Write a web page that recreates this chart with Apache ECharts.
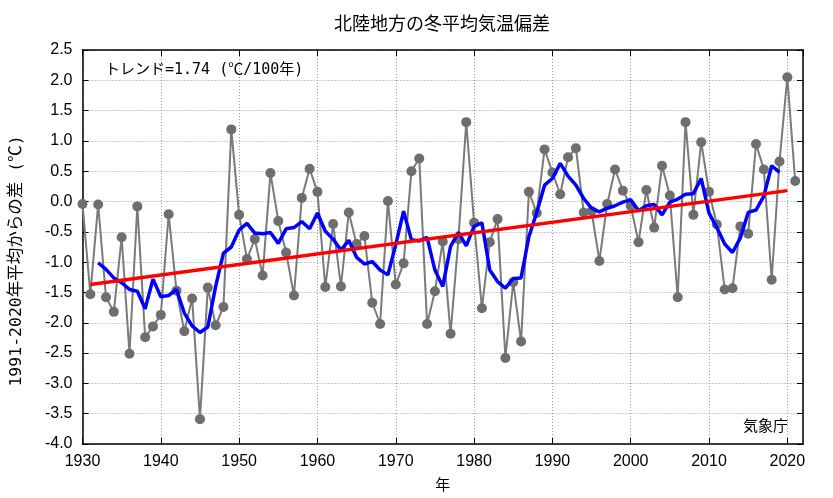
<!DOCTYPE html>
<html lang="ja">
<head>
    <meta charset="UTF-8">
    <title>北陸地方の冬平均気温偏差</title>
    <script src="https://cdn.jsdelivr.net/npm/echarts@6/dist/echarts.min.js"></script>
    <style>
        * {
            margin: 0;
            padding: 0;
        }
        html, body {
            height: 100%;
            background: #fff;
        }
    </style>
</head>
<body>
<div id="main" style="width: 833px;height: 498px"></div>
<script>
    // 年偏差 (1930-2021)
    var firstYear = 1930;
    var anomaly = [
        -0.04, -1.53, -0.05, -1.58, -1.82, -0.59, -2.51, -0.08, -2.24, -2.06,
        -1.87, -0.21, -1.47, -2.14, -1.60, -3.59, -1.42, -2.04, -1.74, 1.19,
        -0.22, -0.95, -0.62, -1.22, 0.47, -0.32, -0.84, -1.55, 0.06, 0.54,
        0.16, -1.41, -0.37, -1.40, -0.18, -0.70, -0.57, -1.67, -2.02, 0.01,
        -1.37, -1.02, 0.50, 0.71, -2.02, -1.48, -0.66, -2.18, -0.62, 1.31,
        -0.35, -1.76, -0.67, -0.29, -2.58, -1.33, -2.31, 0.16, -0.19, 0.86,
        0.48, 0.12, 0.73, 0.88, -0.18, -0.16, -0.98, -0.04, 0.53, 0.18,
        -0.07, -0.67, 0.19, -0.43, 0.59, 0.10, -1.58, 1.31, -0.22, 0.98,
        0.16, -0.38, -1.45, -1.43, -0.41, -0.53, 0.95, 0.53, -1.29, 0.66,
        2.05, 0.34
    ];

    // 5年移動平均 (1932-2019)
    var smoothFirstYear = 1932;
    var smooth = [
        -1.01, -1.12, -1.26, -1.34, -1.45, -1.48, -1.77, -1.28,
        -1.57, -1.55, -1.45, -1.84, -2.05, -2.16, -2.07, -1.40, -0.85, -0.75,
        -0.47, -0.36, -0.52, -0.53, -0.51, -0.69, -0.45, -0.43, -0.33, -0.45,
        -0.19, -0.49, -0.62, -0.80, -0.64, -0.92, -1.03, -0.99, -1.13, -1.21,
        -0.71, -0.16, -0.63, -0.65, -0.59, -1.13, -1.40, -0.74, -0.51, -0.73,
        -0.41, -0.35, -1.13, -1.32, -1.43, -1.27, -1.26, -0.58, -0.18, 0.27,
        0.38, 0.63, 0.42, 0.27, 0.05, -0.11, -0.17, -0.11, -0.07, -0.01,
        0.03, -0.15, -0.07, -0.05, -0.22, -0.01, 0.04, 0.12, 0.13, 0.38,
        -0.19, -0.43, -0.70, -0.84, -0.60, -0.18, -0.14, 0.09, 0.59, 0.48
    ];

    // トレンド直線の両端
    var trendYears = [1931, 2020];
    var trendValues = [-1.37, 0.18];

    var xTicks = [1930, 2022, 10];
    var yTicks = [-4.0, 2.5, 0.5];

    function pairs(start, values) {
        var out = [];
        for (var i = 0; i < values.length; i++) {
            out.push([start + i, values[i]]);
        }
        return out;
    }

    var trendData = [];
    for (var i = 0; i < trendYears.length; i++) {
        trendData.push([trendYears[i], trendValues[i]]);
    }

    var latin = "'Liberation Sans', Arial, sans-serif";
    var cjk = "'Noto Sans CJK JP', 'Liberation Sans', sans-serif";
    var mono = "'DejaVu Sans Mono', 'Noto Sans CJK JP', monospace";
    var frame = {onZero: false, lineStyle: {color: '#000', width: 1.5}};
    var ticks = {inside: true, length: 6, lineStyle: {color: '#000', width: 1}};
    var dotted = {show: true, lineStyle: {type: [1, 2], color: '#999', width: 1}};

    var myChart = echarts.init(document.getElementById('main'));

    var option = {
        animation: false,
        backgroundColor: '#fff',
        grid: {
            left: 81,
            right: 30,
            top: 50,
            bottom: 54
        },
        graphic: [
            {
                type: 'text',
                x: 442,
                y: 23,
                style: {
                    text: '北陸地方の冬平均気温偏差',
                    font: '18px ' + cjk,
                    fill: '#000',
                    align: 'center',
                    verticalAlign: 'middle'
                }
            },
            {
                type: 'text',
                x: 105,
                y: 70,
                z: 10,
                style: {
                    text: 'トレンド=1.74 (℃/100年)',
                    font: '15px ' + mono,
                    fill: '#000',
                    align: 'left',
                    verticalAlign: 'middle'
                }
            },
            {
                type: 'text',
                x: 788,
                y: 425,
                z: 10,
                style: {
                    text: '気象庁',
                    font: '15px ' + cjk,
                    fill: '#000',
                    align: 'right',
                    verticalAlign: 'middle'
                }
            }
        ],
        xAxis: [
            {
                type: 'value',
                position: 'bottom',
                min: xTicks[0],
                max: xTicks[1],
                interval: xTicks[2],
                name: '年',
                nameLocation: 'middle',
                nameGap: 33,
                nameTextStyle: {fontFamily: cjk, fontSize: 15, color: '#000'},
                axisLine: frame,
                axisTick: ticks,
                axisLabel: {
                    fontFamily: latin,
                    fontSize: 16,
                    color: '#000',
                    margin: 10,
                    showMaxLabel: false,
                    formatter: function (v) {
                        return v % 10 === 0 ? String(v) : '';
                    }
                },
                splitLine: dotted
            },
            {
                type: 'value',
                position: 'top',
                min: xTicks[0],
                max: xTicks[1],
                interval: xTicks[2],
                axisLine: frame,
                axisTick: ticks,
                axisLabel: {show: false},
                splitLine: {show: false}
            }
        ],
        yAxis: [
            {
                type: 'value',
                position: 'left',
                min: yTicks[0],
                max: yTicks[1],
                interval: yTicks[2],
                name: '1991-2020年平均からの差 (℃)',
                nameLocation: 'middle',
                nameGap: 58,
                nameTextStyle: {fontFamily: mono, fontSize: 16.5, color: '#000', padding: [0, 28, 0, 0]},
                axisLine: frame,
                axisTick: ticks,
                axisLabel: {
                    fontFamily: latin,
                    fontSize: 16,
                    color: '#000',
                    margin: 10,
                    formatter: function (v) {
                        return v.toFixed(1);
                    }
                },
                splitLine: dotted
            },
            {
                type: 'value',
                position: 'right',
                min: yTicks[0],
                max: yTicks[1],
                interval: yTicks[2],
                axisLine: frame,
                axisTick: ticks,
                axisLabel: {show: false},
                splitLine: {show: false}
            }
        ],
        series: [
            {
                name: '年平均偏差',
                type: 'line',
                data: pairs(firstYear, anomaly),
                symbol: 'circle',
                symbolSize: 10,
                showSymbol: true,
                lineStyle: {color: '#7a7a7a', width: 2},
                itemStyle: {color: '#6e6e6e'},
                z: 2
            },
            {
                name: '5年移動平均',
                type: 'line',
                data: pairs(smoothFirstYear, smooth),
                symbol: 'none',
                lineStyle: {color: '#0000ff', width: 3.5},
                z: 3
            },
            {
                name: 'トレンド',
                type: 'line',
                data: trendData,
                symbol: 'none',
                lineStyle: {color: '#ff0000', width: 3.5},
                z: 4
            }
        ]
    };

    myChart.setOption(option);
</script>
</body>
</html>
